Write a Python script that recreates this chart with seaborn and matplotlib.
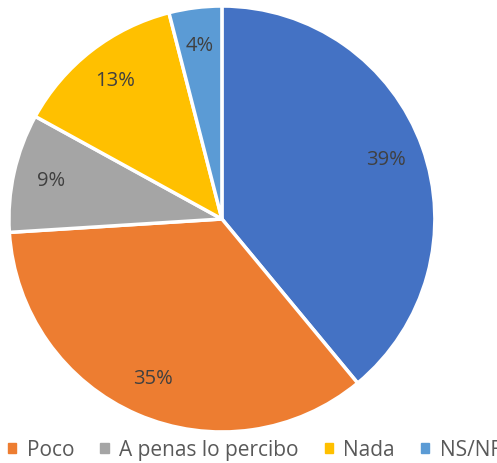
import matplotlib
matplotlib.use("Agg")
import matplotlib.pyplot as plt
import seaborn as sns
from matplotlib.patches import Patch

categories = ["Mucho", "Poco", "A penas lo percibo", "Nada", "NS/NR"]
values = [39, 35, 9, 13, 4]
labels = ["39%", "35%", "9%", "13%", "4%"]
colors = ["#4472C4", "#ED7D31", "#A5A5A5", "#FFC000", "#5B9BD5"]
legend_items = ["Poco", "A penas lo percibo", "Nada", "NS/NF"]

sns.set_theme(style="white")
plt.rcParams["font.family"] = ["Open Sans", "DejaVu Sans"]

fig = plt.figure(figsize=(4.97, 4.63), dpi=100)
ax = fig.add_axes([0.018, 0.067, 0.857, 0.920])
wedges, texts = ax.pie(values, colors=sns.color_palette(colors), startangle=90,
                       counterclock=False, labels=labels, labeldistance=0.82,
                       wedgeprops=dict(edgecolor="white", linewidth=2.5))
for t in texts:
    t.set_ha("center"); t.set_va("center")
    t.set_color("#404040"); t.set_fontsize(14.5)
ax.set_aspect("equal")
ax.set_xlim(-1, 1); ax.set_ylim(-1, 1)

handles = [Patch(color=c) for c in colors[1:]]
leg = fig.legend(handles, legend_items, loc="center left", bbox_to_anchor=(0.016, 0.028),
                 ncol=4, frameon=False, fontsize=15, handlelength=0.4, handleheight=0.4,
                 handletextpad=0.5, columnspacing=1.25, labelcolor="#595959",
                 borderaxespad=0, borderpad=0)
fig.savefig("out.png", dpi=100)
